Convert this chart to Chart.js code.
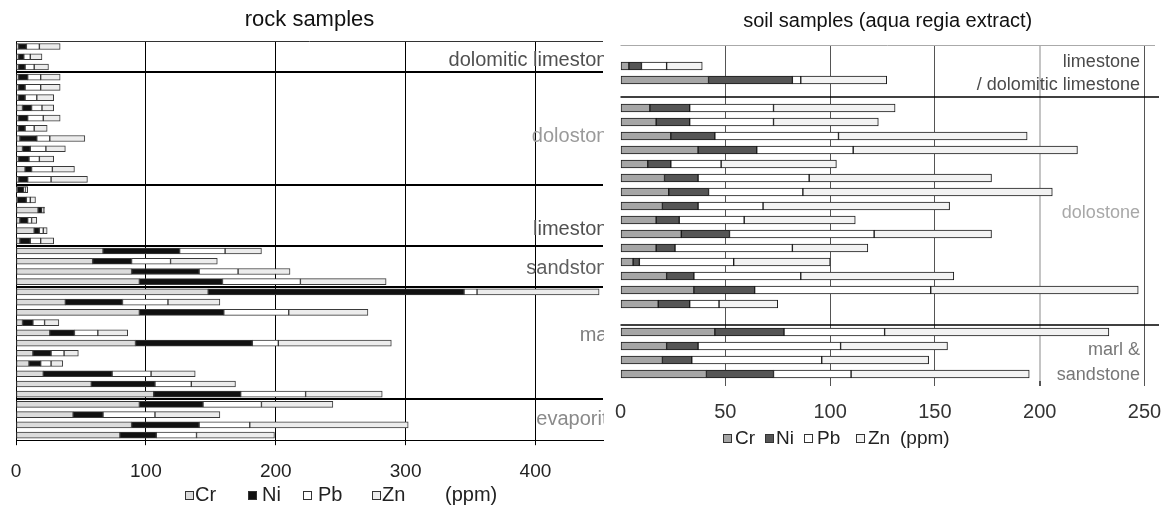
<!DOCTYPE html>
<html><head><meta charset="utf-8">
<script src="https://cdn.jsdelivr.net/npm/chart.js@4.4.1/dist/chart.umd.min.js"></script>
<style>
html,body{margin:0;padding:0;background:#fff;}
#wrap{position:relative;width:1173px;height:510px;overflow:hidden;background:#fff;font-family:'Liberation Sans',Arial,sans-serif;}
canvas{position:absolute;top:0;}
#c1{left:0;} #c2{left:604px;}
.b{position:absolute;width:7px;height:7px;border:1px solid #333;}
.t{position:absolute;white-space:nowrap;color:#222;line-height:1;}
</style></head>
<body><div id="wrap"><canvas id="c1" width="604" height="510"></canvas><canvas id="c2" width="569" height="510"></canvas></div>
<script>
const seriesNames = ['Cr','Ni','Pb','Zn'];

// ---- rock samples ----
const rockGroups = ['dolomitic limestone','dolostone','limestone','sandstone','marl','evaporite'];
const rockGroupSizes = [3,11,6,4,11,4];
const rockSamples = ['R1','R2','R3','R4','R5','R6','R7','R8','R9','R10','R11','R12','R13','R14','R15','R16','R17','R18','R19','R20',
  'R21','R22','R23','R24','R25','R26','R27','R28','R29','R30','R31','R32','R33','R34','R35','R36','R37','R38','R39'];
const rockCr = [2,2,2, 2,2,2,5,2,2,3,5,2,7,2, 1,1,17,3,14,3, 67,59,89,95, 148,38,95,5,26,92,13,10,21,58,106, 95,44,89,80];
const rockNi = [6,4,5, 7,5,5,7,7,5,13,6,8,5,7, 5,7,3,6,4,8, 59,30,52,64, 197,44,65,8,19,90,14,9,53,49,67, 49,23,52,28];
const rockPb = [10,5,7, 10,12,9,8,12,7,10,12,8,16,18, 1,3,1,3,3,8, 35,30,30,60, 10,35,50,9,18,20,10,8,30,28,50, 45,40,39,31];
const rockZn = [16,9,11, 15,15,13,9,13,10,27,15,11,17,28, 2,4,1,4,3,10, 28,36,40,66, 94,40,61,11,23,87,11,9,34,34,59, 55,50,122,60];
const rockTicks = [0,100,200,300,400];

// ---- soil samples ----
const soilGroups = ['limestone\n/ dolomitic limestone','dolostone','marl &\nsandstone'];
const soilSamples = ['', 'S1','S2', '', 'S3','S4','S5','S6','S7','S8','S9','S10','S11','S12','S13','S14','S15','S16','S17', '', 'S18','S19','S20','S21'];
const soilCr = [null, 4,42, null, 14,17,24,37,13,21,23,20,17,29,17,6,22,35,18, null, 45,22,20,41];
const soilNi = [null, 6,40, null, 19,16,21,28,11,16,19,17,11,23,9,3,13,29,15, null, 33,15,14,32];
const soilPb = [null, 12,4, null, 40,40,59,46,24,53,45,31,31,69,56,45,51,84,14, null, 48,68,62,37];
const soilZn = [null, 17,41, null, 58,50,90,107,55,87,119,89,53,56,36,46,73,99,28, null, 107,51,51,85];
const soilTicks = [0,50,100,150,200,250];

const FONT = "'Liberation Sans', Arial, sans-serif";

const groupMarks = {
  id:'groupMarks',
  afterDatasetsDraw(chart, args, o){
    const {ctx, chartArea:a, scales:{x,y}} = chart;
    ctx.save();
    if(o.topBorder){
      ctx.strokeStyle=o.topBorder; ctx.lineWidth=1;
      ctx.beginPath(); ctx.moveTo(a.left, Math.round(a.top)+0.5); ctx.lineTo(a.right, Math.round(a.top)+0.5); ctx.stroke();
    }
    ctx.strokeStyle=o.sepColor; ctx.lineWidth=o.sepWidth;
    o.separators.forEach(i=>{
      const py=Math.round(y.getPixelForValue(i));
      ctx.beginPath(); ctx.moveTo(a.left, py); ctx.lineTo(a.right+(o.sepExtend||0), py); ctx.stroke();
    });
    ctx.font=o.font; ctx.textAlign='right'; ctx.textBaseline='middle';
    o.labels.forEach(l=>{
      ctx.fillStyle=l.color;
      l.text.split('\n').forEach((t,k)=>ctx.fillText(t, x.getPixelForValue(o.labelX), y.getPixelForValue(l.at[k])));
    });
    ctx.restore();
  }
};

function ds(names, arrays, fills, border, thick){
  return names.map((n,i)=>({label:n, data:arrays[i], backgroundColor:fills[i], borderColor:border,
    borderWidth:1, borderSkipped:false, barThickness:thick}));
}

function opts(c){
  return {
    indexAxis:'y', responsive:false, animation:false, devicePixelRatio:1,
    layout:{padding:c.padding},
    plugins:{
      legend:{display:false}, tooltip:{enabled:false},
      title:{display:true, text:c.title, color:'#111', font:{family:FONT, size:c.titleSize, weight:'normal'}, padding:c.titlePad},
      groupMarks:c.marks
    },
    scales:{
      x:{type:'linear', stacked:true, min:0, max:c.max,
        afterBuildTicks:s=>{ s.ticks = c.ticks.map(v=>({value:v})); },
        afterFit:s=>{ s.paddingLeft = 0; s.paddingRight = 0; },
        ticks:{font:{family:FONT, size:c.tickSize}, color:c.tickColor, padding:c.tickPad, maxRotation:0, autoSkip:false},
        grid:{color:c.gridColor, lineWidth:c.gridWidth, drawTicks:true, tickLength:5, tickColor:c.tickMarkColor},
        border:{display:c.xBorder, color:'#000', width:1}},
      y:{stacked:true, display:c.yDisplay, ticks:{display:false}, grid:{display:false, drawTicks:false},
        border:{display:true, color:'#000', width:1}}
    }
  };
}

// rock chart
const rockSepIdx = []; { let s=0; rockGroupSizes.slice(0,-1).forEach(n=>{ s+=n; rockSepIdx.push(s-0.5); }); }
const rockLabelAt = [[1.36],[8.79],[17.9],[21.7],[28.3],[36.5]];
const rockLabelColors = ['#505050','#9a9a9a','#505050','#606060','#808080','#8a8a8a'];
new Chart(document.getElementById('c1'), {
  type:'bar',
  data:{labels:rockSamples, datasets:ds(seriesNames,[rockCr,rockNi,rockPb,rockZn],['#dcdcdc','#111111','#ffffff','#ececec'],'#3a3a3a',6)},
  options:opts({padding:{left:16,right:1,top:0,bottom:12}, title:'rock samples', titleSize:22, titlePad:{top:7,bottom:8},
    max:452, ticks:rockTicks, tickSize:19, tickColor:'#222', tickPad:15, gridColor:'#000', gridWidth:1, tickMarkColor:'#000',
    xBorder:true, yDisplay:true,
    marks:{topBorder:'#333', separators:rockSepIdx, sepColor:'#000', sepWidth:2, sepExtend:0, font:'20px '+FONT, labelX:464,
      labels:rockGroups.map((g,i)=>({text:g, at:rockLabelAt[i], color:rockLabelColors[i]}))}}),
  plugins:[groupMarks]
});

// soil chart
const soilLabelAt = [[0.71,2.36],[11.5],[21.3,23.07]];
const soilLabelColors = ['#4a4a4a','#a8a8a8','#777777'];
new Chart(document.getElementById('c2'), {
  type:'bar',
  data:{labels:soilSamples, datasets:ds(seriesNames,[soilCr,soilNi,soilPb,soilZn],['#a6a6a6','#555555','#ffffff','#f2f2f2'],'#1a1a1a',8)},
  options:opts({padding:{left:16.5,right:18,top:0,bottom:72}, title:'soil samples (aqua regia extract)', titleSize:20, titlePad:{top:9,bottom:12},
    max:255, ticks:soilTicks, tickSize:20, tickColor:'#333', tickPad:14,
    gridColor:c=>c.tick&&c.tick.value===0?'rgba(0,0,0,0)':(c.tick&&c.tick.value===200?'#c4c4c4':'#555'),
    gridWidth:c=>c.tick&&c.tick.value===200?2:1, tickMarkColor:c=>c.tick&&c.tick.value===0?'rgba(0,0,0,0)':'#555',
    xBorder:false, yDisplay:false,
    marks:{topBorder:'#aaa', separators:[3.2,19.5], sepColor:'#000', sepWidth:1.5, sepExtend:4, font:'18px '+FONT, labelX:247.8,
      labels:soilGroups.map((g,i)=>({text:g, at:soilLabelAt[i], color:soilLabelColors[i]}))}}),
  plugins:[groupMarks]
});

// legends (HTML text)
function legend(fills, boxX, textX, ppmX, cy, size){
  const w=document.getElementById('wrap');
  seriesNames.forEach((n,i)=>{
    const b=document.createElement('div'); b.className='b';
    b.style.left=boxX[i]+'px'; b.style.top=(cy-4)+'px'; b.style.background=fills[i]; w.appendChild(b);
    const t=document.createElement('div'); t.className='t'; t.textContent=n;
    t.style.left=textX[i]+'px'; t.style.top=(cy-size*0.55)+'px'; t.style.fontSize=size+'px'; w.appendChild(t);
  });
  const p=document.createElement('div'); p.className='t'; p.textContent='(ppm)';
  p.style.left=ppmX+'px'; p.style.top=(cy-size*0.55)+'px'; p.style.fontSize=size+'px'; w.appendChild(p);
}
legend(['#dcdcdc','#111111','#ffffff','#ececec'],[185,248,303,372],[195,262,318,382],445,495,20);
legend(['#a6a6a6','#555555','#ffffff','#f2f2f2'],[723,765,804,856],[735,776,817,868],900,438,19);
</script>
</body></html>
